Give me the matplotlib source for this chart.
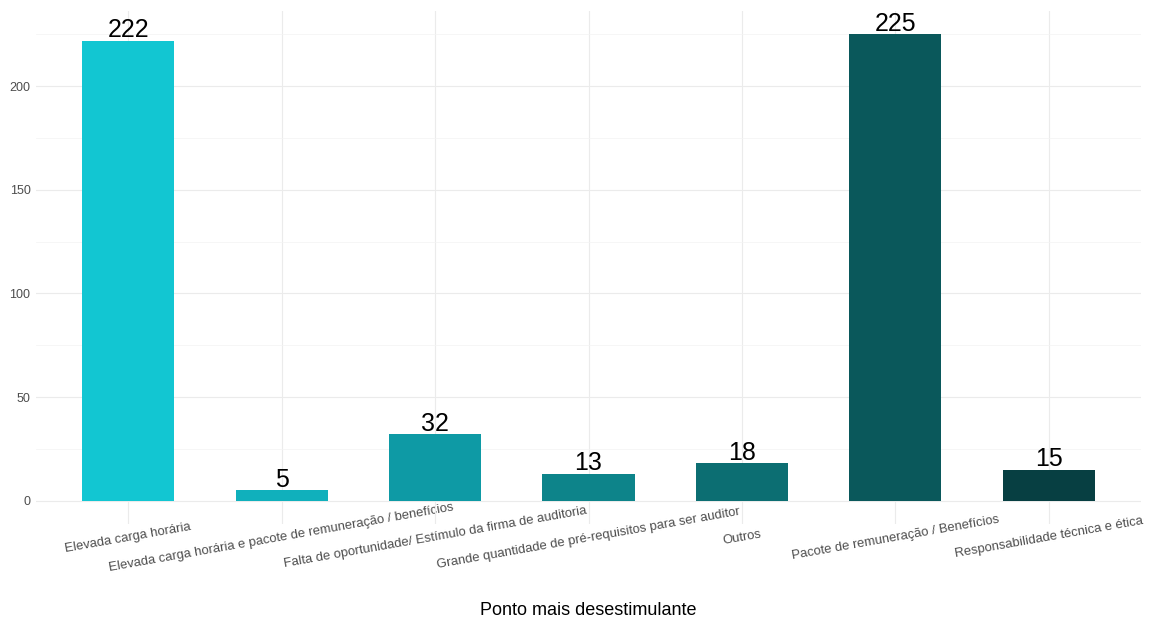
import numpy as np
import matplotlib
matplotlib.use("Agg")
import matplotlib.pyplot as plt
from matplotlib.ticker import MultipleLocator

plt.rcParams["font.family"] = ["Liberation Sans", "DejaVu Sans"]

categories = [
    "Elevada carga horária",
    "Elevada carga horária e pacote de remuneração / benefícios",
    "Falta de oportunidade/ Estímulo da firma de auditoria",
    "Grande quantidade de pré-requisitos para ser auditor",
    "Outros",
    "Pacote de remuneração / Benefícios",
    "Responsabilidade técnica e ética",
]
counts = [222, 5, 32, 13, 18, 225, 15]
colors = ["#12C6D2", "#10B0BC", "#0E9AA5", "#0D848A", "#0C6E72", "#0A585B", "#073F42"]

fig = plt.figure(figsize=(11.56, 6.23), dpi=100)
ax = fig.add_axes([36 / 1156, 1 - 524 / 623, (1141 - 36) / 1156, (524 - 11) / 623])

x = np.arange(len(categories))
ax.bar(x, counts, width=0.6, color=colors, zorder=2)
for xi, v in zip(x, counts):
    ax.text(xi, v + 1.8, str(v), ha="center", va="baseline", fontsize=18, color="black", zorder=3)

ax.set_xlim(-0.6, len(categories) - 0.4)
ax.set_ylim(-11.25, 236.25)
ax.yaxis.set_major_locator(MultipleLocator(50))
ax.yaxis.set_minor_locator(MultipleLocator(25))
ax.set_xticks(x)
ax.set_xticklabels(categories, rotation=10, ha="center", va="center",
                   fontsize=9.4, color="#4D4D4D")
ax.tick_params(axis="x", length=0, pad=10)
ax.tick_params(axis="y", which="both", length=0, labelsize=9, labelcolor="#4D4D4D", pad=4)
ax.grid(True, which="major", color="#EBEBEB", linewidth=0.8, zorder=0)
ax.grid(True, which="minor", axis="y", color="#F3F3F3", linewidth=0.5, zorder=0)
for s in ax.spines.values():
    s.set_visible(False)
ax.set_axisbelow(True)
ax.set_xlabel("Ponto mais desestimulante", fontsize=13)
ax.xaxis.set_label_coords(0.5, (524 - 602) / 513)

fig.savefig("out.png", dpi=100)
